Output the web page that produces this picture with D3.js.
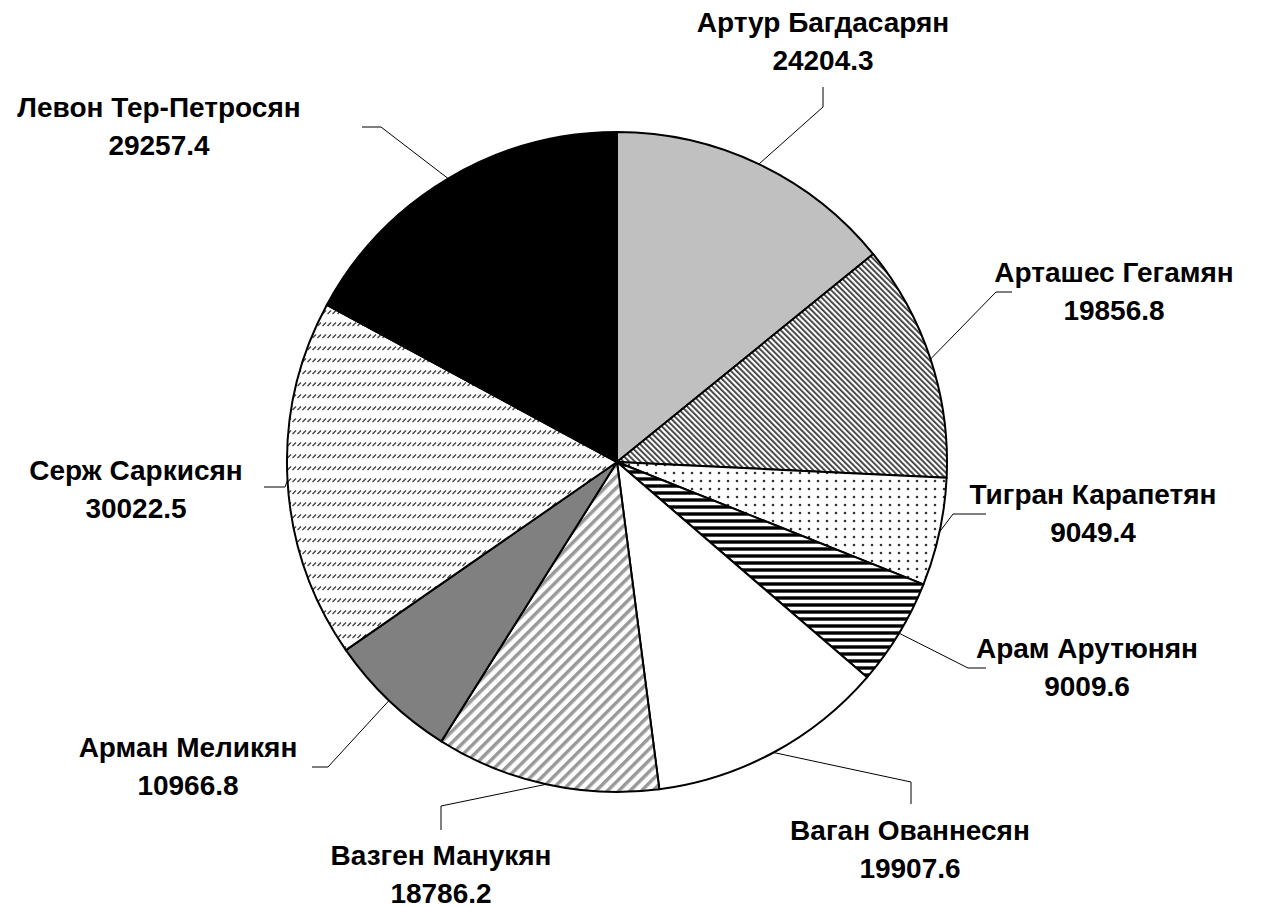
<!DOCTYPE html>
<html>
<head>
<meta charset="utf-8">
<script src="https://cdn.jsdelivr.net/npm/d3@7"></script>
<style>
  body { margin: 0; background: #fff; }
  text { font-family: "Liberation Sans", Arial, sans-serif; font-weight: bold; font-size: 28px; fill: #000; }
</style>
</head>
<body>
<svg width="1271" height="907"></svg>
<script>
var names = ["Артур Багдасарян", "Арташес Гегамян", "Тигран Карапетян", "Арам Арутюнян",
  "Ваган Ованнесян", "Вазген Манукян", "Арман Меликян", "Серж Саркисян", "Левон Тер-Петросян"];
var votes = [24204.3, 19856.8, 9049.4, 9009.6, 19907.6, 18786.2, 10966.8, 30022.5, 29257.4];
var fills = ["#c0c0c0", "url(#hatchBack)", "url(#dots)", "url(#hstripes)", "#ffffff",
  "url(#hatchFwd)", "#808080", "url(#dashes)", "#000000"];

// label layout: text centre, leader elbow, leader end
var labelPos = [
  { x: 823, y: 22, elbow: [823, 107], end: [823, 87] },
  { x: 1114, y: 272, elbow: [996, 292], end: [1012, 292] },
  { x: 1093, y: 494, elbow: [953, 514], end: [986, 514] },
  { x: 1087, y: 648, elbow: [968, 668], end: [986, 668] },
  { x: 910, y: 830, elbow: [911, 782], end: [911, 804] },
  { x: 441, y: 855, elbow: [441, 806], end: [441, 830] },
  { x: 188, y: 747, elbow: [328, 767], end: [312, 767] },
  { x: 136, y: 470, elbow: [285, 487], end: [264, 487] },
  { x: 159, y: 107, elbow: [381, 127], end: [362, 127] }
];

var svg = d3.select("svg");
var cx = 617, cy = 462, radius = 330;

var defs = svg.append("defs");

// fine "\" hatch
var p1 = defs.append("pattern").attr("id", "hatchBack")
  .attr("patternUnits", "userSpaceOnUse").attr("width", 4).attr("height", 4)
  .attr("patternTransform", "rotate(-45)");
p1.append("rect").attr("width", 4).attr("height", 4).attr("fill", "#fff");
p1.append("rect").attr("width", 1.8).attr("height", 4).attr("fill", "#3a3a3a");

// dots
var p2 = defs.append("pattern").attr("id", "dots")
  .attr("patternUnits", "userSpaceOnUse").attr("width", 9).attr("height", 8);
p2.append("rect").attr("width", 9).attr("height", 8).attr("fill", "#fff");
p2.append("circle").attr("cx", 3).attr("cy", 3).attr("r", 1.3).attr("fill", "#333");

// horizontal black stripes
var p3 = defs.append("pattern").attr("id", "hstripes")
  .attr("patternUnits", "userSpaceOnUse").attr("width", 7).attr("height", 7);
p3.append("rect").attr("width", 7).attr("height", 7).attr("fill", "#fff");
p3.append("rect").attr("y", 1).attr("width", 7).attr("height", 4).attr("fill", "#999");
p3.append("rect").attr("y", 1.5).attr("width", 7).attr("height", 3).attr("fill", "#000");

// wide "/" hatch
var p4 = defs.append("pattern").attr("id", "hatchFwd")
  .attr("patternUnits", "userSpaceOnUse").attr("width", 8).attr("height", 8)
  .attr("patternTransform", "rotate(45)");
p4.append("rect").attr("width", 8).attr("height", 8).attr("fill", "#fff");
p4.append("rect").attr("width", 3.5).attr("height", 8).attr("fill", "#999");

// rows of short dashes
var p5 = defs.append("pattern").attr("id", "dashes")
  .attr("patternUnits", "userSpaceOnUse").attr("width", 5).attr("height", 12);
p5.append("rect").attr("width", 5).attr("height", 12).attr("fill", "#fff");
p5.append("line").attr("x1", 0.5).attr("y1", 8).attr("x2", 4).attr("y2", 4.5)
  .attr("stroke", "#444").attr("stroke-width", 1.5);

var pie = d3.pie().sort(null).value(function (d) { return d; });
var arcs = pie(votes);

var arc = d3.arc().innerRadius(0).outerRadius(radius);
var edge = d3.arc().innerRadius(radius).outerRadius(radius);

var g = svg.append("g").attr("transform", "translate(" + cx + "," + cy + ")");

g.selectAll("path.slice")
  .data(arcs)
  .enter()
  .append("path")
  .attr("class", "slice")
  .attr("d", arc)
  .attr("fill", function (d, i) { return fills[i]; })
  .attr("stroke", "#000")
  .attr("stroke-width", 2)
  .attr("stroke-linejoin", "round");

// leader lines
svg.append("g").selectAll("polyline")
  .data(arcs)
  .enter()
  .append("polyline")
  .attr("points", function (d, i) {
    var c = edge.centroid(d);
    var lp = labelPos[i];
    return [[cx + c[0], cy + c[1]], lp.elbow, lp.end].map(function (p) { return p.join(","); }).join(" ");
  })
  .attr("fill", "none")
  .attr("stroke", "#000")
  .attr("stroke-width", 1);

var labels = svg.append("g").selectAll("text")
  .data(arcs)
  .enter()
  .append("text")
  .attr("text-anchor", "middle")
  .attr("dominant-baseline", "central");

labels.append("tspan")
  .attr("x", function (d, i) { return labelPos[i].x; })
  .attr("y", function (d, i) { return labelPos[i].y; })
  .text(function (d, i) { return names[i]; });

labels.append("tspan")
  .attr("x", function (d, i) { return labelPos[i].x; })
  .attr("y", function (d, i) { return labelPos[i].y + 38; })
  .text(function (d) { return d.value.toFixed(1); });
</script>
</body>
</html>
